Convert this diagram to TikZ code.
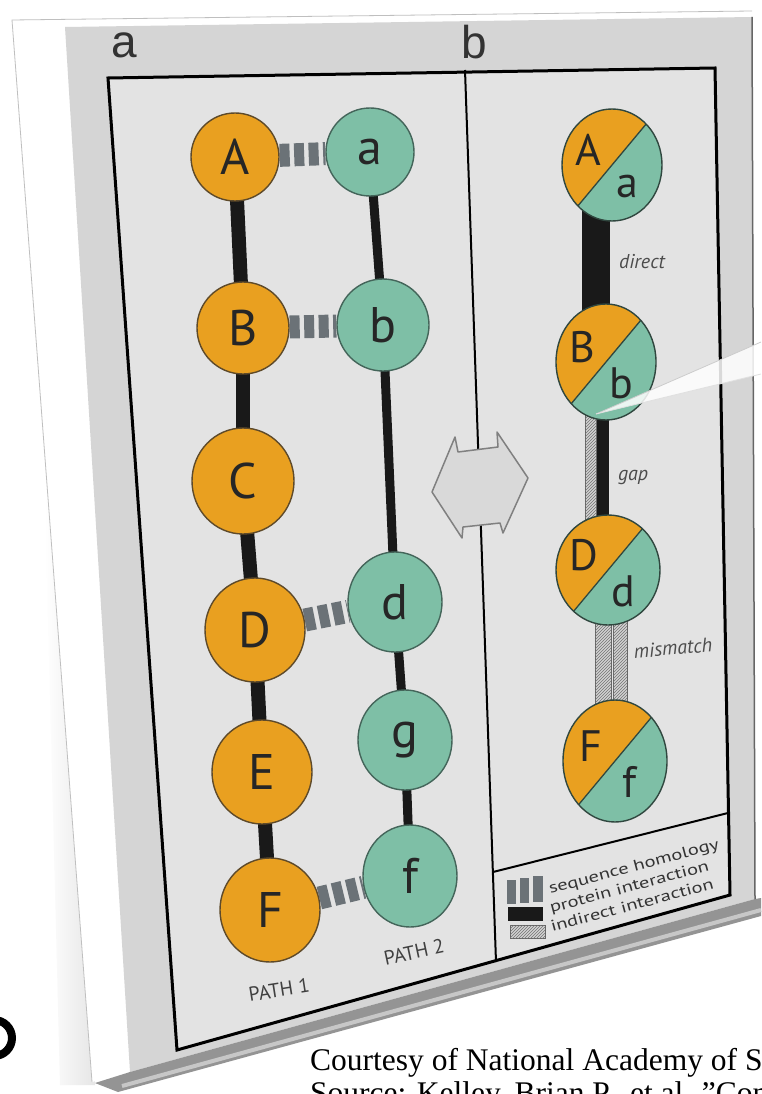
\documentclass[tikz,border=0pt]{standalone}
\usepackage{fontspec}
\setmainfont[Ligatures=NoCommon]{Liberation Serif}
\newfontfamily\ptsans{PT Sans}
\newfontfamily\arialf{Liberation Sans}
\usetikzlibrary{shapes.geometric,patterns,calc}
\pgfdeclarelayer{board}
\pgfdeclarelayer{links}
\pgfsetlayers{board,links,main}
\definecolor{orng}{HTML}{E9A020}
\definecolor{tealc}{HTML}{7EBFA6}
\definecolor{facegray}{HTML}{D5D5D5}
\definecolor{innergray}{HTML}{E3E3E3}
\definecolor{homgray}{HTML}{6B7277}
\definecolor{ringo}{HTML}{5E4A2A}
\definecolor{ringt}{HTML}{44655A}
\definecolor{hatchfill}{HTML}{D2D2D2}
\tikzset{
  circ/.style n args={2}{ellipse, inner sep=0pt, minimum width=#1pt, minimum height=#2pt, line width=1.4pt},
  onode/.style={draw=ringo, fill=orng, text=black!85, font=\ptsans\fontsize{50}{50}\selectfont},
  tnode/.style={draw=ringt, fill=tealc, text=black!85, font=\ptsans\fontsize{50}{50}\selectfont},
  chainO/.style={line width=14pt, black!90},
  chainT/.style={line width=9pt, black!90},
  homol/.style={line width=23pt, homgray, dash pattern=on 10pt off 4.5pt},
  hatchbar/.style={fill=hatchfill, postaction={pattern=north east lines, pattern color=black!55}, draw=black!60, line width=0.8pt},
  lbl/.style={font=\ptsans\itshape\fontsize{20}{20}\selectfont, text=black!70},
  pathlbl/.style={font=\ptsans\fontsize{20}{20}\selectfont, text=black!75},
  legtxt/.style={font=\ptsans\fontsize{15.5}{15.5}\selectfont, text=black!80, anchor=base west, inner sep=0pt},
  sletter/.style={font=\ptsans\fontsize{44}{44}\selectfont, text=black!85, inner sep=0pt},
  panellbl/.style={font=\arialf\fontsize{46}{46}\selectfont, text=black!80},
  captxt/.style={anchor=base west, inner sep=0pt, font=\fontsize{31.5}{31.5}\selectfont},
}
\newcommand\splitnode[7]{% name,x,y,rx,ry,Upper,lower
  \node[ellipse, inner sep=0pt, minimum width={2*#4pt}, minimum height={2*#5pt}, fill=tealc] (#1) at (#2,#3) {};
  \begin{scope}
    \clip (#2,#3) ellipse [x radius=#4, y radius=#5];
    \fill[orng] ($(#2,#3)+(70,-84)$) -- ($(#2,#3)+(-70,84)$) -- ($(#2,#3)+(-154,14)$) -- ($(#2,#3)+(-14,-154)$) -- cycle;
    \draw[ringt!70!black, line width=1.3pt] ($(#2,#3)+(70,-84)$) -- ($(#2,#3)+(-70,84)$);
  \end{scope}
  \draw[ringt!70!black, line width=1.4pt] (#2,#3) ellipse [x radius=#4, y radius=#5];
  \node[sletter] (#1U) at ($(#2,#3)+(-24,-15)$) {#6};
  \node[sletter] (#1l) at ($(#2,#3)+(15,21)$) {#7};
}
\begin{document}
\begin{tikzpicture}[x=1pt,y=-1pt]
\useasboundingbox (0,0) rectangle (761,1094);
\clip (0,0) rectangle (761,1094);
\begin{pgfonlayer}{board}
  \fill[white] (0,0) rectangle (761,1094);
  \shade[left color=white, right color=black!10] (45,500) -- (75,500) -- (95,1085) -- (60,1085) -- cycle;
  \fill[white] (12,20) -- (65,27) -- (130,1072) -- (92,1082) -- cycle;
  \fill[white] (12,20) -- (752,11) -- (752,17) -- (65,27) -- cycle;
  \draw[black!25, line width=0.8pt] (92,1082) -- (12,20) -- (752,11);
  \fill[facegray] (65,27) -- (752,17) -- (755,899) -- (130,1072) -- cycle;
  \fill[black!42] (130,1072) -- (755,899) -- (761,898) -- (761,916) -- (118,1092) -- (95,1083) -- cycle;
  \draw[black!22, line width=4pt] (122,1086) -- (761,910);
  \draw[black!60, line width=1.5pt] (752,17) -- (755,899);
  \filldraw[fill=innergray, draw=black, line width=3pt] (108,78) -- (715,68) -- (730,895) -- (177,1050) -- cycle;
  \draw[black, line width=2pt] (465,70) -- (496,962);
  \draw[black, line width=2pt] (493,872) -- (728,813);
\end{pgfonlayer}
% panel letters
\node[panellbl] (pa) at (124,45) {a};
\node[panellbl] (pb) at (474,42) {b};
% path 1
\node[circ={88}{88}, onode] (nA) at (235,157) {A};
\node[circ={92}{92}, onode] (nB) at (243,328) {B};
\node[circ={102}{106}, onode] (nC) at (243,481) {C};
\node[circ={100}{104}, onode] (nD) at (255,630) {D};
\node[circ={100}{104}, onode] (nE) at (262,772) {E};
\node[circ={100}{104}, onode] (nF) at (270,910) {F};
% path 2
\node[circ={88}{88}, tnode] (na) at (370,152) {a};
\node[circ={92}{92}, tnode] (nb) at (383,325) {b};
\node[circ={94}{100}, tnode] (nd) at (395,602) {d};
\node[circ={94}{100}, tnode] (ng) at (405,740) {g};
\node[circ={94}{102}, tnode] (nf) at (410,876) {f};
\begin{pgfonlayer}{links}
  \draw[chainO] (nA.center) -- (nB.center);
  \draw[chainO] (nB.center) -- (nC.center);
  \draw[chainO] (nC.center) -- (nD.center);
  \draw[chainO] (nD.center) -- (nE.center);
  \draw[chainO] (nE.center) -- (nF.center);
  \draw[chainT] (na.center) -- (nb.center);
  \draw[chainT] (nb.center) -- (nd.center);
  \draw[chainT] (nd.center) -- (ng.center);
  \draw[chainT] (ng.center) -- (nf.center);
  \draw[homol] (nA) -- (na);
  \draw[homol] (nB) -- (nb);
  \draw[homol] (nD) -- (nd);
  \draw[homol] (nF) -- (nf);
  % right panel connectors
  \fill[black!90] (582,205) rectangle (610,315);
  \draw[hatchbar] (585,405) rectangle (596,530);
  \fill[black!90] (597,405) rectangle (609,530);
  \draw[hatchbar] (595,615) rectangle (611,712);
  \draw[hatchbar] (613,615) rectangle (627,712);
\end{pgfonlayer}
\node[pathlbl, rotate=9] (p1) at (279,990) {PATH 1};
\node[pathlbl, rotate=12] (p2) at (414,952) {PATH 2};
% right panel
\splitnode{sA}{612}{165}{50}{56}{A}{a}
\splitnode{sB}{606}{362}{50}{58}{B}{b}
\splitnode{sD}{608}{570}{52}{55}{D}{d}
\splitnode{sF}{615}{761}{52}{61}{F}{f}
\node[lbl] (ldirect) at (642,262) {direct};
\node[lbl] (lgap) at (633,477) {gap};
\node[lbl, rotate=5] (lmis) at (673,648) {mismatch};
% double arrow
\filldraw[fill=black!15, draw=black!50, line width=1.5pt, line join=round]
  (432,492) -- (455,437) -- (458,452) -- (498,447) -- (497,432) -- (528,478)
  -- (503,533) -- (500,523) -- (463,527) -- (462,538) -- cycle;
% legend
\fill[homgray] (507,880) rectangle (516,904);
\fill[homgray] (520,878) rectangle (529,903);
\fill[homgray] (533,876) rectangle (543,902);
\fill[black!90] (508,907) rectangle (543,921);
\draw[hatchbar] (510,925) rectangle (545,938);
\node[legtxt, rotate=15, xscale=1.33] (lg1) at (550,894) {sequence homology};
\node[legtxt, rotate=15, xscale=1.33] (lg2) at (551,913) {protein interaction};
\node[legtxt, rotate=15, xscale=1.33] (lg3) at (552,932) {indirect interaction};
% callout wedge
\fill[white, opacity=0.85] (596,414) -- (761,342) -- (761,374) -- cycle;
\draw[black!20, line width=0.8pt] (596,414) -- (761,342);
\draw[black!12, line width=0.8pt] (596,414) -- (761,374);
% black fragment at left edge
\draw[black, line width=8pt] (-6,1038) circle [radius=18];
% caption
\node[captxt] (cap1) at (310,1070) {Courtesy of National Academy of S};
\node[captxt] (cap2) at (310,1103) {Source: Kelley, Brian P., et al. \char"0022 Con};
\end{tikzpicture}
\end{document}
